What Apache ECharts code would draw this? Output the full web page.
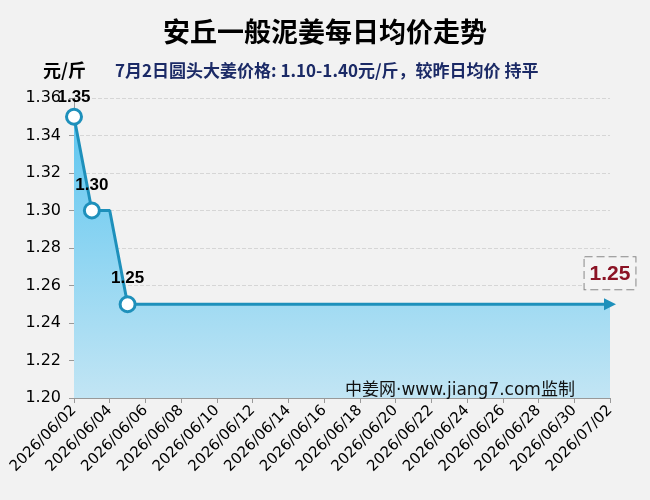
<!DOCTYPE html>
<html>
<head>
<meta charset="utf-8">
<script src="https://cdn.jsdelivr.net/npm/echarts@6/dist/echarts.min.js"></script>
<style>
  html, body { margin: 0; padding: 0; background: #f2f2f2; }
  #chart { width: 650px; height: 500px; }
</style>
</head>
<body>
<div id="chart"></div>
<script>
const dates = [
  '2026/06/02', '2026/06/03', '2026/06/04', '2026/06/05', '2026/06/06', '2026/06/07',
  '2026/06/08', '2026/06/09', '2026/06/10', '2026/06/11', '2026/06/12', '2026/06/13',
  '2026/06/14', '2026/06/15', '2026/06/16', '2026/06/17', '2026/06/18', '2026/06/19',
  '2026/06/20', '2026/06/21', '2026/06/22', '2026/06/23', '2026/06/24', '2026/06/25',
  '2026/06/26', '2026/06/27', '2026/06/28', '2026/06/29', '2026/06/30', '2026/07/01',
  '2026/07/02'
]
const prices = [
  1.35, 1.30, 1.30, 1.25, 1.25, 1.25, 1.25, 1.25, 1.25, 1.25, 1.25,
  1.25, 1.25, 1.25, 1.25, 1.25, 1.25, 1.25, 1.25, 1.25, 1.25, 1.25,
  1.25, 1.25, 1.25, 1.25, 1.25, 1.25, 1.25, 1.25, 1.25
]
// days where the price changed get a marker + label
const markedIdx = [0, 1, 3]

const lineColor = '#1e90bb'
const cjk = '"Noto Sans CJK SC", "DejaVu Sans", sans-serif'
const num = '"DejaVu Sans", sans-serif'
const numBold = '"Liberation Sans", Arial, sans-serif'

const seriesData = prices.map((v, i) => {
  if (markedIdx.includes(i)) {
    return {
      value: v,
      symbol: 'circle',
      symbolSize: 15,
      label: {
        show: true, position: 'top', distance: i === 0 ? 2 : 8,
        formatter: p => p.value.toFixed(2),
        color: '#000', fontWeight: 'bold', fontSize: 17, fontFamily: numBold
      }
    }
  }
  if (i === prices.length - 1) {
    return {
      value: v,
      symbol: 'triangle',
      symbolSize: [12, 12],
      symbolRotate: -90,
      itemStyle: { color: lineColor, borderWidth: 0 },
      label: {
        show: true, position: 'top', distance: 9,
        formatter: p => p.value.toFixed(2),
        color: '#8b1325', fontWeight: 'bold', fontSize: 21, fontFamily: numBold,
        backgroundColor: '#f4f4f4',
        borderColor: '#888', borderWidth: 1, borderType: 'dashed',
        padding: [6, 5, 5, 5]
      }
    }
  }
  return { value: v, symbol: 'none' }
})

const chart = echarts.init(document.getElementById('chart'))
chart.setOption({
  backgroundColor: '#f2f2f2',
  animation: false,
  title: [
    {
      text: '安丘一般泥姜每日均价走势',
      left: 'center', top: 13,
      textStyle: { fontFamily: cjk, fontSize: 27, fontWeight: 'bold', color: '#000' }
    },
    {
      text: '7月2日圆头大姜价格: 1.10-1.40元/斤，较昨日均价 持平',
      left: 110, top: 57,
      textStyle: { fontFamily: cjk, fontSize: 17, fontWeight: 'bold', color: '#1b2a66' }
    },
    {
      text: '元/斤',
      left: 38, top: 56,
      textStyle: { fontFamily: cjk, fontSize: 18, fontWeight: 'bold', color: '#000' }
    }
  ],
  graphic: [{
    type: 'text',
    left: 345, top: 382, z: 100,
    style: {
      text: '中姜网·www.jiang7.com监制',
      font: '17px "DejaVu Sans", "Noto Sans CJK SC", sans-serif',
      fill: '#111'
    }
  }],
  grid: { left: 74, right: 40, top: 98, bottom: 102 },
  xAxis: {
    type: 'category',
    data: dates,
    boundaryGap: false,
    axisLine: { lineStyle: { color: '#999' } },
    axisTick: { show: true, interval: 1, length: 5, lineStyle: { color: '#999' } },
    axisLabel: {
      interval: 1, rotate: 45, color: '#000', fontSize: 15, fontFamily: num, margin: 10
    },
    splitLine: { show: false }
  },
  yAxis: {
    type: 'value',
    min: 1.20, max: 1.36, interval: 0.02,
    axisLine: { show: true, lineStyle: { color: '#999' } },
    axisTick: { show: true, length: 5, lineStyle: { color: '#999' } },
    axisLabel: {
      color: '#000', fontSize: 16, fontFamily: num, margin: 13,
      formatter: v => v.toFixed(2)
    },
    splitLine: { lineStyle: { color: '#d6d6d6', type: 'dashed' } }
  },
  series: [{
    type: 'line',
    data: seriesData,
    showSymbol: true,
    showAllSymbol: true,
    lineStyle: { color: lineColor, width: 3 },
    itemStyle: { color: '#fff', borderColor: lineColor, borderWidth: 3 },
    areaStyle: {
      color: new echarts.graphic.LinearGradient(0, 0, 0, 1, [
        { offset: 0, color: '#5ec6f0' },
        { offset: 1, color: '#c2e5f4' }
      ]),
      opacity: 1
    }
  }]
})
</script>
</body>
</html>
